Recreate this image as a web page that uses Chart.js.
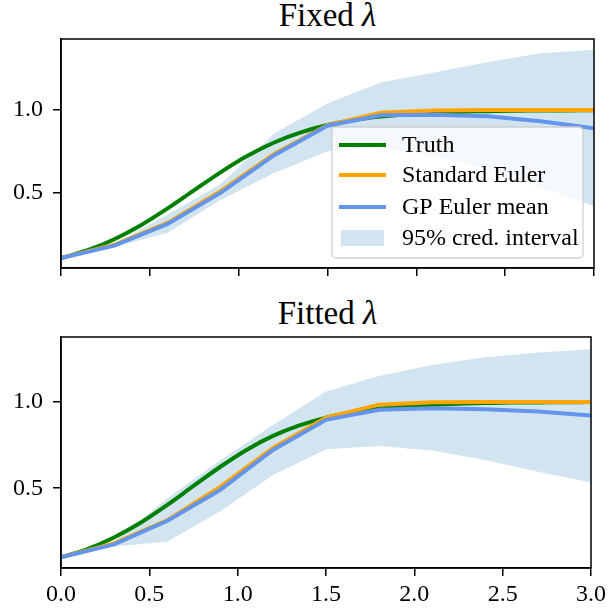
<!DOCTYPE html>
<html>
<head>
<meta charset="utf-8">
<script src="https://cdn.jsdelivr.net/npm/chart.js@4.4.1/dist/chart.umd.min.js"></script>
<style>
  body { margin: 0; background: #fff; }
  #wrap { position: relative; width: 610px; height: 614px; }
  .box { position: absolute; left: 0; width: 610px; }
  .title {
    position: absolute; left: 61px; width: 533px; text-align: center;
    font-family: 'Liberation Serif', serif; font-size: 33px; line-height: 36px; color: #000;
  }
</style>
</head>
<body>
<div id="wrap">
  <div class="title" style="top:-3px;">Fixed <i>λ</i></div>
  <div class="title" style="top:295px;">Fitted <i>λ</i></div>
  <div class="box" style="top:0; height:300px;"><canvas id="fixedChart"></canvas></div>
  <div class="box" style="top:300px; height:314px;"><canvas id="fittedChart"></canvas></div>
</div>
<script>
// time grids
const tTruth = [0, 0.15, 0.3, 0.45, 0.6, 0.75, 0.9, 1.05, 1.2, 1.35, 1.5, 1.65, 1.8, 1.95, 2.1, 2.25, 2.4, 2.55, 2.7, 2.85, 3.0];
const tEuler = [0, 0.3, 0.6, 0.9, 1.2, 1.5, 1.8, 2.1, 2.4, 2.7, 3.0];

// values
const truth = [0.100, 0.148, 0.215, 0.300, 0.402, 0.513, 0.623, 0.722, 0.803, 0.864, 0.909, 0.940, 0.961, 0.975, 0.984, 0.990, 0.993, 0.996, 0.997, 0.998, 0.999];
const standardEuler = [0.100, 0.181, 0.314, 0.508, 0.733, 0.909, 0.984, 0.998, 1.000, 1.000, 1.000];

const gpMeanFixed = [0.100, 0.176, 0.308, 0.498, 0.726, 0.905, 0.968, 0.972, 0.962, 0.932, 0.890];
const bandLowFixed = [0.100, 0.168, 0.255, 0.455, 0.617, 0.750, 0.774, 0.720, 0.640, 0.530, 0.415];
const bandHighFixed = [0.100, 0.186, 0.365, 0.550, 0.858, 1.040, 1.168, 1.229, 1.290, 1.346, 1.366];

const gpMeanFitted = [0.100, 0.175, 0.310, 0.490, 0.722, 0.896, 0.954, 0.963, 0.958, 0.944, 0.921];
const bandLowFitted = [0.100, 0.163, 0.190, 0.365, 0.577, 0.726, 0.745, 0.718, 0.664, 0.596, 0.533];
const bandHighFitted = [0.100, 0.190, 0.440, 0.660, 0.867, 1.060, 1.150, 1.214, 1.259, 1.286, 1.305];

const xTicks = [0, 0.5, 1.0, 1.5, 2.0, 2.5, 3.0];
const yTicks = [0.5, 1.0];

const legendLabels = ['Truth', 'Standard Euler', 'GP Euler mean', '95% cred. interval'];

const GREEN = '#008000';
const ORANGE = '#ffa500';
const BLUE = '#6495ed';
const BAND = 'rgba(31,119,180,0.2)';
const FONT = "'Liberation Serif', serif";

Chart.defaults.font.family = FONT;
Chart.defaults.color = '#000';

function pts(xs, ys) {
    return xs.map((x, i) => ({ x: x, y: ys[i] }));
}

function makeDatasets(mean, low, high) {
    return [
        { label: 'low', data: pts(tEuler, low), borderWidth: 0, pointRadius: 0, fill: false, order: 5 },
        { label: legendLabels[3], data: pts(tEuler, high), borderWidth: 0, pointRadius: 0,
          fill: '-1', backgroundColor: BAND, order: 4 },
        { label: legendLabels[0], data: pts(tTruth, truth), borderColor: GREEN, borderWidth: 4,
          pointRadius: 0, cubicInterpolationMode: 'monotone', order: 3 },
        { label: legendLabels[1], data: pts(tEuler, standardEuler), borderColor: ORANGE, borderWidth: 4,
          pointRadius: 0, tension: 0, order: 2 },
        { label: legendLabels[2], data: pts(tEuler, mean), borderColor: BLUE, borderWidth: 4,
          pointRadius: 0, tension: 0, order: 1 }
    ];
}

// black frame round the plot area, like matplotlib spines
const framePlugin = {
    id: 'frame',
    afterDraw(chart) {
        const a = chart.chartArea;
        const ctx = chart.ctx;
        ctx.save();
        ctx.strokeStyle = '#000';
        ctx.lineWidth = 1.5;
        ctx.strokeRect(a.left, a.top, a.right - a.left, a.bottom - a.top);
        ctx.restore();
    }
};

// legend drawn inside the lower right corner of the top plot
const insideLegend = {
    id: 'insideLegend',
    afterDraw(chart, args, opts) {
        if (!opts.show) return;
        const a = chart.chartArea;
        const ctx = chart.ctx;
        const w = 251, h = 131;
        const x0 = a.right - 11 - w, y0 = a.bottom - 10 - h;
        ctx.save();
        ctx.beginPath();
        ctx.roundRect(x0, y0, w, h, 4);
        ctx.fillStyle = 'rgba(255,255,255,0.8)';
        ctx.fill();
        ctx.strokeStyle = 'rgba(204,204,204,0.9)';
        ctx.lineWidth = 1.3;
        ctx.stroke();

        const rows = [18, 48, 80, 111];
        const colors = [GREEN, ORANGE, BLUE];
        ctx.font = '24px ' + FONT;
        ctx.textBaseline = 'middle';
        ctx.fillStyle = '#000';
        rows.forEach((dy, i) => {
            const y = y0 + dy;
            if (i < 3) {
                ctx.strokeStyle = colors[i];
                ctx.lineWidth = 4;
                ctx.beginPath();
                ctx.moveTo(x0 + 7, y);
                ctx.lineTo(x0 + 54, y);
                ctx.stroke();
            } else {
                ctx.fillStyle = BAND;
                ctx.fillRect(x0 + 9, y - 8, 43, 16);
            }
            ctx.fillStyle = '#000';
            ctx.fillText(legendLabels[i], x0 + 70, y + 1);
        });
        ctx.restore();
    }
};

function makeChart(id, mean, low, high, opt) {
    const ctx = document.getElementById(id).getContext('2d');
    return new Chart(ctx, {
        type: 'line',
        data: { datasets: makeDatasets(mean, low, high) },
        options: {
            responsive: true,
            maintainAspectRatio: false,
            animation: false,
            layout: { padding: { top: opt.padTop, right: 16, left: 0, bottom: 0 } },
            plugins: {
                legend: { display: false },
                tooltip: { enabled: false },
                insideLegend: { show: opt.legend }
            },
            scales: {
                x: {
                    type: 'linear',
                    min: 0, max: 3,
                    afterBuildTicks: s => { s.ticks = xTicks.map(v => ({ value: v })); },
                    afterFit: s => { s.height = opt.xHeight; },
                    ticks: {
                        display: opt.xLabels,
                        padding: 4,
                        font: { size: 24 },
                        maxRotation: 0,
                        callback: v => v.toFixed(1)
                    },
                    grid: { drawOnChartArea: false, drawTicks: true, tickLength: 8, color: '#000', lineWidth: 1.5 },
                    border: { display: true, color: '#000', width: 1.5 }
                },
                y: {
                    type: 'linear',
                    min: opt.yMin, max: opt.yMax,
                    afterBuildTicks: s => { s.ticks = yTicks.map(v => ({ value: v })); },
                    afterFit: s => { s.width = 61; },
                    ticks: {
                        padding: 10,
                        font: { size: 24 },
                        callback: v => v.toFixed(1)
                    },
                    grid: { drawOnChartArea: false, drawTicks: true, tickLength: 8, color: '#000', lineWidth: 1.5 },
                    border: { display: true, color: '#000', width: 1.5 }
                }
            }
        },
        plugins: [framePlugin, insideLegend]
    });
}

makeChart('fixedChart', gpMeanFixed, bandLowFixed, bandHighFixed,
    { padTop: 39, xHeight: 32, xLabels: false, legend: true, yMin: 0.04, yMax: 1.432 });
makeChart('fittedChart', gpMeanFitted, bandLowFitted, bandHighFitted,
    { padTop: 37, xHeight: 46, xLabels: true, legend: false, yMin: 0.038, yMax: 1.376 });
</script>
</body>
</html>
